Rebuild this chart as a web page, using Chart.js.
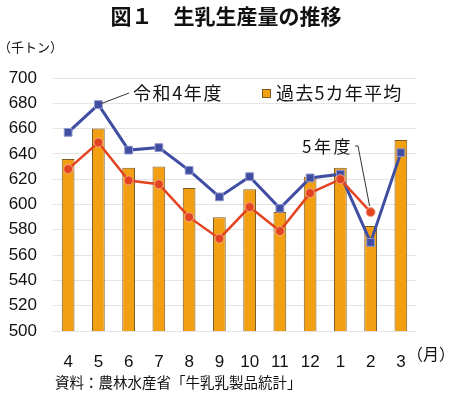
<!DOCTYPE html>
<html>
<head>
<meta charset="utf-8">
<script src="https://cdn.jsdelivr.net/npm/chart.js@4.4.1/dist/chart.umd.min.js"></script>
<style>
  html, body { margin: 0; padding: 0; background: #fff; }
  #wrap { width: 450px; height: 394px; position: relative; }
</style>
</head>
<body>
<div id="wrap"><canvas id="milkChart" width="450" height="394"></canvas></div>
<script>
const months = ['4', '5', '6', '7', '8', '9', '10', '11', '12', '1', '2', '3'];
const avg5y = [636, 660, 629, 630, 613, 590, 612, 594, 622, 629, 583, 651];
const reiwa4 = [657, 679, 643, 645, 627, 606, 622, 597, 621, 624, 570, 641];
const reiwa5 = [628, 649, 619, 616, 590, 573, 598, 579, 609, 620, 594, null];

const JP = '"Noto Sans CJK JP", "Noto Sans", sans-serif';
const NUM = '"Liberation Sans", Arial, sans-serif';

// titles, unit labels, legend, leader notes
const notesPlugin = {
    id: 'notes',
    afterDraw(chart) {
        const ctx = chart.ctx;
        const x = chart.scales.x;
        const y = chart.scales.y;
        ctx.save();
        ctx.fillStyle = '#111';
        ctx.textBaseline = 'middle';

        ctx.font = 'bold 21px ' + JP;
        ctx.textAlign = 'center';
        ctx.fillText('図１　生乳生産量の推移', 226, 16);

        ctx.textAlign = 'left';
        ctx.font = '13px ' + JP;
        ctx.fillText('（千トン）', -2, 47);
        ctx.font = '14.5px ' + JP;
        ctx.fillText('資料：農林水産省「牛乳乳製品統計」', 55, 382);

        ctx.font = '16px ' + JP;
        ctx.fillText('（月）', 407, 354);

        // legend
        ctx.fillStyle = '#F2A012';
        ctx.strokeStyle = '#7B5B20';
        ctx.lineWidth = 1;
        ctx.fillRect(262.5, 89.5, 8, 8);
        ctx.strokeRect(262.5, 89.5, 8, 8);
        ctx.fillStyle = '#111';
        ctx.font = '18px ' + JP;
        ctx.letterSpacing = '1.2px';
        ctx.fillText('過去5カ年平均', 276, 93);

        // series notes
        ctx.letterSpacing = '1.6px';
        ctx.fillText('令和4年度', 133, 93);
        ctx.font = '17px ' + JP;
        ctx.letterSpacing = '2.5px';
        ctx.fillText('5年度', 302, 147);
        ctx.letterSpacing = '0px';

        ctx.strokeStyle = '#333';
        ctx.lineWidth = 1;
        ctx.beginPath();
        ctx.moveTo(129, 93);
        ctx.lineTo(x.getPixelForValue(1) + 3, y.getPixelForValue(reiwa4[1]) - 1);
        ctx.stroke();

        ctx.beginPath();
        ctx.moveTo(355, 146);
        ctx.lineTo(358, 146);
        ctx.lineTo(x.getPixelForValue(10) - 1, y.getPixelForValue(reiwa5[10]) - 6);
        ctx.stroke();
        ctx.restore();
    }
};

const data = {
    labels: months,
    datasets: [
        {
            type: 'line',
            label: '5年度',
            data: reiwa5,
            borderColor: '#E3441F',
            borderWidth: 2.5,
            pointStyle: 'circle',
            pointRadius: 4.5,
            pointBackgroundColor: '#E3441F',
            pointBorderColor: '#F4A58E',
            pointBorderWidth: 1,
            order: 1,
        },
        {
            type: 'line',
            label: '令和4年度',
            data: reiwa4,
            borderColor: '#3F4DA2',
            borderWidth: 3,
            pointStyle: 'rect',
            pointRadius: 5.5,
            pointBackgroundColor: '#3F4DA2',
            pointBorderColor: '#9098CC',
            pointBorderWidth: 1,
            order: 2,
        },
        {
            type: 'bar',
            label: '過去5カ年平均',
            data: avg5y,
            backgroundColor: '#F2A012',
            borderColor: '#7B5B20',
            borderWidth: 1,
            barPercentage: 0.42,
            categoryPercentage: 1,
            order: 3,
        },
    ],
};

const canvas = document.getElementById('milkChart');

const chart = new Chart(canvas, {
    type: 'bar',
    data,
    options: {
        responsive: false,
        animation: false,
        layout: {
            padding: { left: 0, right: 34, top: 78, bottom: 0 },
        },
        plugins: {
            legend: { display: false },
            tooltip: { enabled: false },
        },
        scales: {
            x: {
                grid: { display: false },
                border: { display: false },
                ticks: {
                    color: '#111',
                    font: { family: NUM, size: 17 },
                    padding: 13,
                    maxRotation: 0,
                },
                afterFit(scale) { scale.height = 63; },
            },
            y: {
                min: 500,
                max: 700,
                grid: { color: '#e4e4e4', drawTicks: false, lineWidth: 1 },
                border: { display: false },
                ticks: {
                    stepSize: 20,
                    color: '#111',
                    font: { family: NUM, size: 17 },
                    padding: 16,
                },
                afterFit(scale) { scale.width = 53; },
            },
        },
    },
    plugins: [notesPlugin],
});
</script>
</body>
</html>
